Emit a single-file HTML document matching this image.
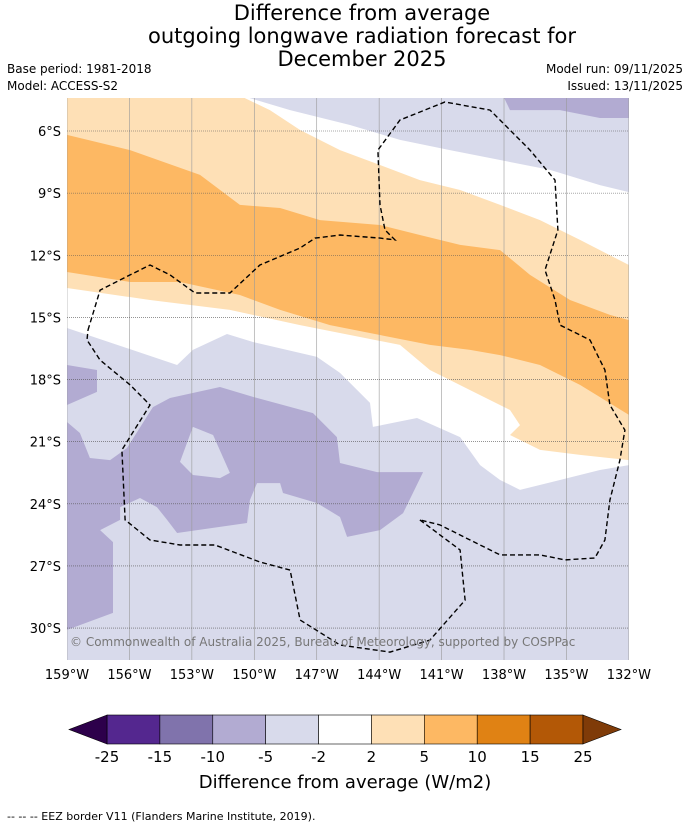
<!DOCTYPE html>
<html><head><meta charset="utf-8">
<style>
body{margin:0;background:#fff;font-family:"DejaVu Sans","Liberation Sans",sans-serif;}
svg text{font-family:"DejaVu Sans","Liberation Sans",sans-serif;}
</style></head>
<body>
<svg id="chart" width="690" height="827" viewBox="0 0 690 827" xmlns="http://www.w3.org/2000/svg">
<text x="362" y="20" font-size="21" text-anchor="middle">Difference from average</text>
<text x="362" y="43" font-size="21" text-anchor="middle">outgoing longwave radiation forecast for</text>
<text x="362" y="66" font-size="21" text-anchor="middle">December 2025</text>
<text x="7" y="73" font-size="12">Base period: 1981-2018</text>
<text x="7" y="90" font-size="12">Model: ACCESS-S2</text>
<text x="683" y="73" font-size="12" text-anchor="end">Model run: 09/11/2025</text>
<text x="683" y="90" font-size="12" text-anchor="end">Issued: 13/11/2025</text>
<g id="map"></g>
<g id="cbar"></g>
<text x="345" y="788" font-size="18" text-anchor="middle">Difference from average (W/m2)</text>
<text x="7" y="820" font-size="11">--  --  -- EEZ border V11 (Flanders Marine Institute, 2019).</text>
</svg>
<script>
const lonTicks=[-159,-156,-153,-150,-147,-144,-141,-138,-135,-132];
const latTicks=[6,9,12,15,18,21,24,27,30];
const levels=[-25,-15,-10,-5,-2,2,5,10,15,25];
const levelColors=["#54278f","#8073ac","#b2abd2","#d8daeb","#ffffff","#fee0b6","#fdb863","#e08214","#b35806"];
const extendColors=["#2d004b","#7f3b08"];
const whiteRegion=[[-159,4],[-132,4],[-132,22.13],[-133.39,22.37],[-135.31,22.85],[-137.23,23.33],[-138.19,22.85],[-139.15,22.13],[-140.11,20.78],[-142.18,19.86],[-144.3,20.29],[-144.44,19.13],[-145.88,17.68],[-146.99,16.91],[-150.06,16.19],[-151.31,15.8],[-152.95,16.57],[-153.71,17.3],[-159,15.51]];
const lightOrange=[[-159,4],[-150.45,4],[-150.45,4.41],[-149.25,4.99],[-147.8,5.95],[-145.88,6.92],[-143.96,7.64],[-142.04,8.37],[-140.11,8.85],[-138.19,9.57],[-136.27,10.3],[-134.35,11.26],[-132,12.47],[-132,21.89],[-134.35,21.64],[-136.27,21.4],[-137.71,20.68],[-137.23,20.2],[-137.71,19.47],[-139.63,18.51],[-141.56,17.54],[-143.0,16.33],[-145.4,15.85],[-147.8,15.37],[-151.17,14.64],[-155.01,14.16],[-159,13.58]];
const orange=[[-159,6.19],[-155.97,6.92],[-152.61,8.12],[-150.69,9.57],[-148.76,9.72],[-146.84,10.3],[-143.96,10.54],[-142.04,11.02],[-140.11,11.5],[-138.19,11.75],[-136.75,12.95],[-134.83,14.16],[-132.91,14.88],[-132,15.13],[-132,19.71],[-134.35,18.26],[-136.27,17.3],[-138.19,16.82],[-139.63,16.57],[-141.56,16.33],[-143.96,15.85],[-146.36,15.37],[-148.76,14.64],[-150.69,13.92],[-153.57,13.29],[-155.97,13.29],[-159,12.81]];
const topPurple=[[-150.21,4],[-132,4],[-132,8.95],[-133.39,8.61],[-135.79,7.88],[-138.19,7.4],[-140.6,6.92],[-143.0,6.43],[-145.4,5.71],[-148.28,4.99],[-150.21,4.41]];
const topDarkPurple=[[-138.19,4],[-132,4],[-132,5.37],[-133.39,5.37],[-135.31,4.99],[-137.71,4.99]];
const midPurple1=[[-159,17.3],[-157.56,17.54],[-157.56,18.6],[-159,19.23]];
const midPurpleMain=[[-159,20.05],[-158.38,20.58],[-157.9,21.79],[-156.93,21.89],[-156.12,21.31],[-154.87,19.33],[-154.05,18.89],[-151.65,18.36],[-150.06,18.84],[-147.18,19.62],[-146.03,20.78],[-145.88,22.03],[-144.1,22.47],[-141.89,22.47],[-142.85,24.45],[-143.96,25.27],[-145.54,25.6],[-145.88,24.64],[-146.99,23.96],[-148.62,23.48],[-148.76,23.0],[-149.87,23.0],[-150.21,23.82],[-150.35,24.93],[-153.71,25.41],[-154.19,24.78],[-154.68,24.16],[-155.49,23.72],[-156.45,24.16],[-156.45,24.78],[-157.41,25.27],[-156.79,25.85],[-156.79,29.27],[-159,30.09]];
const midPurpleHole=[[-152.95,20.29],[-151.98,20.68],[-151.17,22.51],[-151.65,22.76],[-152.95,22.61],[-153.57,21.98]];
const eez1=[[-157.99,15.61],[-157.41,13.68],[-155.97,12.95],[-155.01,12.47],[-154.05,12.95],[-152.85,13.82],[-151.17,13.82],[-149.73,12.47],[-147.8,11.65],[-147.08,11.17],[-145.88,11.02],[-143.96,11.17],[-143.24,11.26],[-143.72,10.78],[-143.96,9.57],[-144.06,6.92],[-143.0,5.47],[-140.84,4.6],[-138.67,4.99],[-136.75,6.92],[-135.55,8.37],[-135.41,10.78],[-136.03,12.71],[-135.55,14.16],[-135.31,15.37],[-133.87,16.09],[-133.15,17.54],[-132.91,19.23],[-132.19,20.44],[-132.43,21.89],[-132.91,23.82],[-133.15,25.75],[-133.63,26.62],[-135.07,26.71],[-136.27,26.47],[-138.19,26.47],[-139.63,25.75],[-141.08,25.02],[-142.04,24.78]];
const eez2=[[-142.04,24.78],[-140.11,26.23],[-139.87,28.65],[-141.56,30.58],[-143.48,31.16],[-145.88,30.82],[-147.8,29.61],[-148.28,27.2],[-149.73,26.81],[-151.89,25.99],[-153.57,25.99],[-155.01,25.75],[-156.21,24.78],[-156.36,21.4],[-155.01,19.23],[-155.97,18.26],[-157.41,17.06],[-158.04,16.09],[-157.99,15.61]];
const X0=67,X1=629,Y0=98,Y1=660;
const xS=lon=>X0+(lon+159)*20.81;
const yS=lat=>131+(lat-6)*20.71;
const NS="http://www.w3.org/2000/svg";
const map=document.getElementById('map');
function mk(tag,attrs,parent){const e=document.createElementNS(NS,tag);for(const k in attrs)e.setAttribute(k,attrs[k]);parent.appendChild(e);return e;}
function pts(a){return a.map(p=>xS(p[0]).toFixed(1)+","+yS(p[1]).toFixed(1)).join(" ");}
const defs=mk('defs',{},map);
const cp=mk('clipPath',{id:'mc'},defs);mk('rect',{x:X0,y:Y0,width:X1-X0,height:Y1-Y0},cp);
const g=mk('g',{'clip-path':'url(#mc)'},map);
const bg=mk('rect',{x:X0,y:Y0,width:X1-X0,height:Y1-Y0,fill:"#d8daeb"},g);


const layers=[[whiteRegion,"#ffffff","anomaly-white"],[lightOrange,"#fee0b6","anomaly-light-orange"],[orange,"#fdb863","anomaly-orange"],[topPurple,"#d8daeb","anomaly-top-purple"],[topDarkPurple,"#b2abd2","anomaly-top-mid-purple"],[midPurple1,"#b2abd2","anomaly-mid-purple-1"],[midPurpleMain,"#b2abd2","anomaly-mid-purple-main"],[midPurpleHole,"#d8daeb","anomaly-hole"]];
layers.forEach(L=>{const p=mk('polygon',{points:pts(L[0]),fill:L[1]},g);

});
lonTicks.forEach(t=>{const l=mk('line',{x1:xS(t),x2:xS(t),y1:Y0,y2:Y1,stroke:"#999",'stroke-width':0.6},g);


const tx=mk('text',{x:xS(t),y:679,'font-size':13,'text-anchor':'middle'},map);tx.textContent=(-t)+"°W";

});
latTicks.forEach(t=>{const l=mk('line',{x1:X0,x2:X1,y1:yS(t),y2:yS(t),stroke:"#555",'stroke-width':0.6,'stroke-dasharray':'1,1'},g);


const tx=mk('text',{x:61,y:yS(t)+5,'font-size':13,'text-anchor':'end'},map);tx.textContent=t+"°S";

});
[eez1,eez2].forEach(e=>{const p=mk('polyline',{points:pts(e),fill:'none',stroke:'#000','stroke-width':1.4,'stroke-dasharray':'5,3'},g);

});
const cr=mk('text',{x:70,y:646,'font-size':12,fill:'#777'},map);cr.textContent="© Commonwealth of Australia 2025, Bureau of Meteorology, supported by COSPPac";


const cb=document.getElementById('cbar');
const CX0=107,CX1=583,CY=715,CH=29,n=levelColors.length,w=(CX1-CX0)/n;
levelColors.forEach((c,i)=>{const r=mk('rect',{x:CX0+i*w,y:CY,width:w,height:CH,fill:c,stroke:'#000','stroke-width':0.6},cb);

});
const tl=mk('polygon',{points:`${CX0},${CY} ${CX0},${CY+CH} 69,${CY+CH/2}`,fill:extendColors[0],stroke:'#000','stroke-width':0.6},cb);


const tr=mk('polygon',{points:`${CX1},${CY} ${CX1},${CY+CH} 621,${CY+CH/2}`,fill:extendColors[1],stroke:'#000','stroke-width':0.6},cb);


levels.forEach((v,i)=>{const t=mk('text',{x:CX0+i*w,y:762,'font-size':15,'text-anchor':'middle'},cb);t.textContent=v;

});
</script>
</body></html>
